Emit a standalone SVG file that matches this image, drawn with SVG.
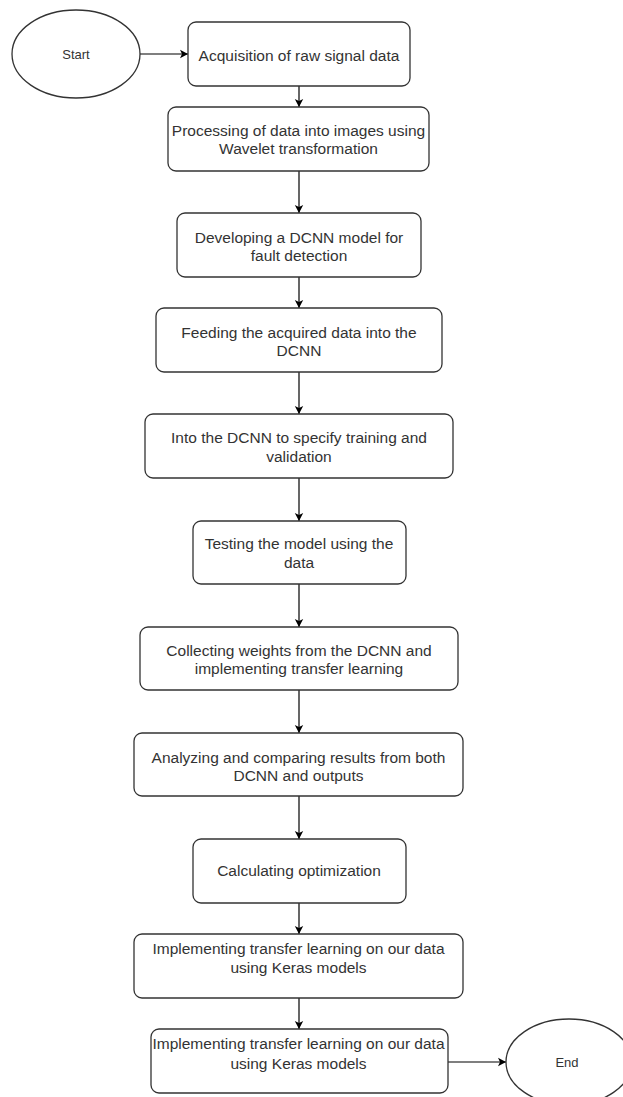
<svg xmlns="http://www.w3.org/2000/svg" width="623" height="1097" viewBox="0 0 623 1097">
<defs>
<marker id="arr" markerWidth="10" markerHeight="10" refX="8" refY="5" orient="auto" markerUnits="userSpaceOnUse">
<path d="M0,0.8 L8,5 L0,9.2 L2,5 Z" fill="#000"/>
</marker>
<style>
.box{fill:#fff;stroke:#333;stroke-width:1.3}
.t{font-family:"Liberation Sans",Arial,sans-serif;font-size:15.5px;fill:#333;text-anchor:middle}
.s{font-family:"Liberation Sans",Arial,sans-serif;font-size:13px;fill:#333;text-anchor:middle}
.c{fill:none;stroke:#000;stroke-width:1.2}
</style>
</defs>
<rect width="623" height="1097" fill="#fff"/>
<g id="connectors">
<line class="c" x1="140" y1="54" x2="188" y2="54" marker-end="url(#arr)"/>
<line class="c" x1="299" y1="86" x2="299" y2="107" marker-end="url(#arr)"/>
<line class="c" x1="299" y1="171" x2="299" y2="213" marker-end="url(#arr)"/>
<line class="c" x1="299" y1="277" x2="299" y2="308" marker-end="url(#arr)"/>
<line class="c" x1="299" y1="372" x2="299" y2="414" marker-end="url(#arr)"/>
<line class="c" x1="299" y1="478" x2="299" y2="521" marker-end="url(#arr)"/>
<line class="c" x1="299" y1="584" x2="299" y2="627" marker-end="url(#arr)"/>
<line class="c" x1="299" y1="690" x2="299" y2="733" marker-end="url(#arr)"/>
<line class="c" x1="299" y1="796" x2="299" y2="839" marker-end="url(#arr)"/>
<line class="c" x1="299" y1="903" x2="299" y2="934" marker-end="url(#arr)"/>
<line class="c" x1="299" y1="998" x2="299" y2="1029" marker-end="url(#arr)"/>
<line class="c" x1="448" y1="1062" x2="506" y2="1062" marker-end="url(#arr)"/>
</g>
<g id="start">
<ellipse class="box" cx="76" cy="54" rx="64" ry="44"/>
<text class="s" x="76" y="59">Start</text>
</g>
<g id="n1">
<rect class="box" x="188" y="22" width="222" height="64" rx="8"/>
<text class="t" x="299" y="60.5">Acquisition of raw signal data</text>
</g>
<g id="n2">
<rect class="box" x="168" y="107" width="261" height="64" rx="8"/>
<text class="t" x="298.5" y="135.5">Processing of data into images using</text>
<text class="t" x="298.5" y="154">Wavelet transformation</text>
</g>
<g id="n3">
<rect class="box" x="177" y="213" width="244" height="64" rx="8"/>
<text class="t" x="299" y="242.5">Developing a DCNN model for</text>
<text class="t" x="299" y="261">fault detection</text>
</g>
<g id="n4">
<rect class="box" x="156" y="308" width="286" height="64" rx="8"/>
<text class="t" x="299" y="337.5">Feeding the acquired data into the</text>
<text class="t" x="299" y="356">DCNN</text>
</g>
<g id="n5">
<rect class="box" x="145" y="414" width="308" height="64" rx="8"/>
<text class="t" x="299" y="443">Into the DCNN to specify training and</text>
<text class="t" x="299" y="461.5">validation</text>
</g>
<g id="n6">
<rect class="box" x="193" y="521" width="213" height="63" rx="8"/>
<text class="t" x="299" y="549">Testing the model using the</text>
<text class="t" x="299" y="567.5">data</text>
</g>
<g id="n7">
<rect class="box" x="140" y="627" width="318" height="63" rx="8"/>
<text class="t" x="299" y="655.5">Collecting weights from the DCNN and</text>
<text class="t" x="299" y="674">implementing transfer learning</text>
</g>
<g id="n8">
<rect class="box" x="134" y="733" width="329" height="63" rx="8"/>
<text class="t" x="298.5" y="762.5">Analyzing and comparing results from both</text>
<text class="t" x="298.5" y="780.5">DCNN and outputs</text>
</g>
<g id="n9">
<rect class="box" x="193" y="839" width="213" height="64" rx="8"/>
<text class="t" x="299" y="875.5">Calculating optimization</text>
</g>
<g id="n10">
<rect class="box" x="134" y="934" width="329" height="64" rx="8"/>
<text class="t" x="298.5" y="953.5">Implementing transfer learning on our data</text>
<text class="t" x="298.5" y="972.5">using Keras models</text>
</g>
<g id="n11">
<rect class="box" x="151" y="1029" width="297" height="64" rx="8"/>
<text class="t" x="298.5" y="1048.5">Implementing transfer learning on our data</text>
<text class="t" x="298.5" y="1068.5">using Keras models</text>
</g>
<g id="end">
<ellipse class="box" cx="569" cy="1062" rx="63" ry="43"/>
<text class="s" x="567" y="1067">End</text>
</g>
</svg>
